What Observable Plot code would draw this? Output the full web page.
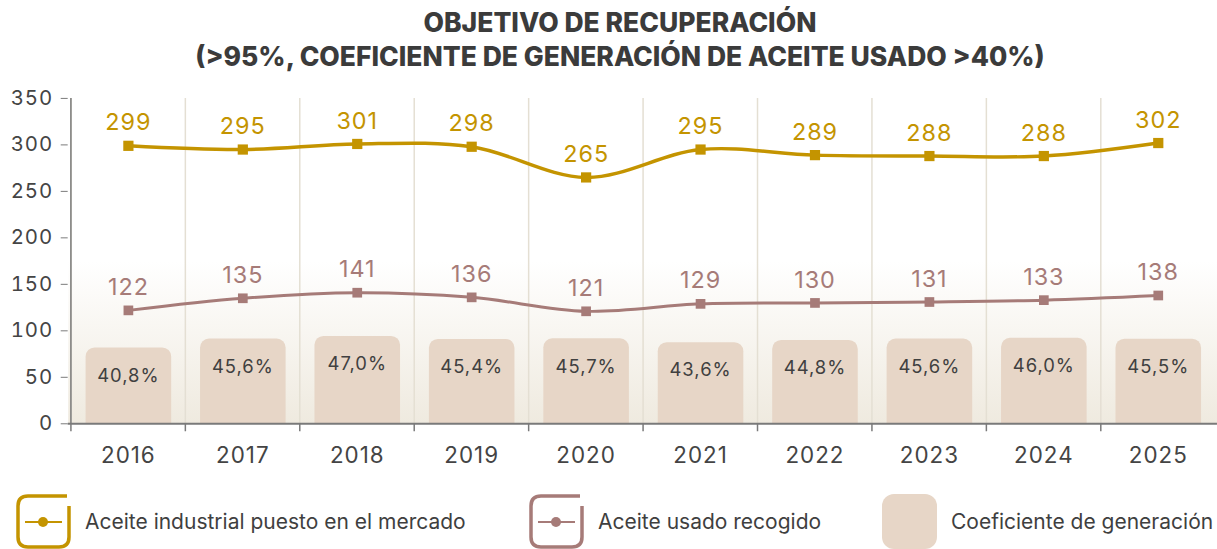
<!DOCTYPE html>
<html><head><meta charset="utf-8">
<script src="https://cdn.jsdelivr.net/npm/d3@7"></script>
<script src="https://cdn.jsdelivr.net/npm/@observablehq/plot@0.6"></script>
<style>
body{margin:0;background:#fff;overflow:hidden;width:1217px;height:549px;font-family:Inter,"Noto Sans",sans-serif;position:relative}
#title{position:absolute;left:0;top:5px;width:1240px;text-align:center;font-weight:800;font-size:26.5px;line-height:34px;color:#3b3b3b}
#chart{position:absolute;left:0;top:80px}
#chart svg text{letter-spacing:1px}
#legend{position:absolute;left:0;top:493px;width:1217px;height:57px}
.item{position:absolute;top:0;height:57px;display:flex;align-items:center;font-size:21px;color:#3f3f3f}
.item svg{margin-right:13px}
</style></head><body>
<div id="title">OBJETIVO DE RECUPERACIÓN<br>(&gt;95%, COEFICIENTE DE GENERACIÓN DE ACEITE USADO &gt;40%)</div>
<div id="chart"></div>
<div id="legend">
  <div class="item" style="left:15px"><svg width="57" height="57" viewBox="0 0 57 57"><path d="M52 3H13Q3 3 3 13V44Q3 54 13 54H44Q54 54 54 44V13" fill="none" stroke="#c49400" stroke-width="3.5"/><path d="M10 29H47" stroke="#c49400" stroke-width="2"/><circle cx="28" cy="29" r="5" fill="#c49400"/></svg>Aceite industrial puesto en el mercado</div>
  <div class="item" style="left:528px"><svg width="57" height="57" viewBox="0 0 57 57"><path d="M52 3H13Q3 3 3 13V44Q3 54 13 54H44Q54 54 54 44V13" fill="none" stroke="#a67b78" stroke-width="3.5"/><path d="M10 29H47" stroke="#a67b78" stroke-width="2"/><circle cx="28" cy="29" r="5" fill="#a67b78"/></svg>Aceite usado recogido</div>
  <div class="item" style="left:881px"><svg width="57" height="57" viewBox="0 0 57 57"><rect x="1" y="1" width="55" height="55" rx="12" fill="#e7d6c7"/></svg>Coeficiente de generación</div>
</div>
<script>
const years = ["2016","2017","2018","2019","2020","2021","2022","2023","2024","2025"];
const industrial = [299,295,301,298,265,295,289,288,288,302];
const recogido = [122,135,141,136,121,129,130,131,133,138];
const coeficiente = [40.8,45.6,47.0,45.4,45.7,43.6,44.8,45.6,46.0,45.5];
const yTicks = [0,50,100,150,200,250,300,350];

const gold = "#c49400", mauve = "#a67b78", beige = "#e7d6c7";
const data = years.map((y,i)=>({year:y, ind:industrial[i], rec:recogido[i], coef:coeficiente[i]}));

const W = 1223, ML = 68, MR = 0;
const bw = (W - ML - MR) / years.length;

const chart = Plot.plot({
  width: W, height: 395,
  marginLeft: ML, marginRight: MR, marginTop: 18, marginBottom: 50,
  style: {fontFamily: "Inter, 'Noto Sans', sans-serif", color: "#444", overflow: "visible"},
  x: {type: "band", domain: years, padding: 0},
  y: {domain: [0, 350]},
  marks: [
    () => {
      const s = d3.create("svg:defs");
      const g = s.append("linearGradient").attr("id","bgGrad").attr("x1",0).attr("x2",0).attr("y1",0).attr("y2",1);
      g.append("stop").attr("offset","0.5").attr("stop-color","#ffffff");
      g.append("stop").attr("offset","1").attr("stop-color","#efeadf");
      return s.node();
    },
    Plot.frame({fill: "url(#bgGrad)", stroke: null}),
    Plot.ruleX(years, {x: d => d, dx: -bw/2, stroke: "#e4dfd3", strokeWidth: 1.5}),
    Plot.barY(data, {x: "year", y: d => d.coef * 2, fill: beige, insetLeft: 15, insetRight: 14, rx: 9, insetBottom: -14, clip: true}),
    Plot.text(data, {x: "year", y: d => d.coef * 2, text: d => d.coef.toFixed(1).replace(".", ",") + "%", dy: 28, fontSize: 18.5, fill: "#404040"}),
    Plot.ruleY([0], {stroke: "#7a7a7a", strokeWidth: 2}),
    Plot.ruleX(years, {x: d => d, dx: -bw/2, y1: 0, y2: 0, insetBottom: -8, stroke: "#7a7a7a", strokeWidth: 1.5}),
    Plot.ruleX([years[0]], {x: d => d, dx: -bw/2, stroke: "#7a7a7a", strokeWidth: 1.5}),
    Plot.axisY({ticks: yTicks, tickSize: 7, tickPadding: 8, fontSize: 20.5, stroke: "#7a7a7a", fill: "#444", label: null}),
    Plot.axisX({tickSize: 0, tickPadding: 23, fontSize: 22.5, fill: "#444", label: null}),
    Plot.lineY(data, {x: "year", y: "ind", curve: "catmull-rom", stroke: gold, strokeWidth: 3.5}),
    Plot.dot(data, {x: "year", y: "ind", symbol: "square", r: 5.8, fill: gold}),
    Plot.text(data, {x: "year", y: "ind", text: d => String(d.ind), dy: -23, fontSize: 23.5, fill: gold}),
    Plot.lineY(data, {x: "year", y: "rec", curve: "catmull-rom", stroke: mauve, strokeWidth: 3}),
    Plot.dot(data, {x: "year", y: "rec", symbol: "square", r: 5.5, fill: mauve}),
    Plot.text(data, {x: "year", y: "rec", text: d => String(d.rec), dy: -23, fontSize: 23.5, fill: mauve})
  ]
});
document.getElementById("chart").appendChild(chart);
</script>
</body></html>
